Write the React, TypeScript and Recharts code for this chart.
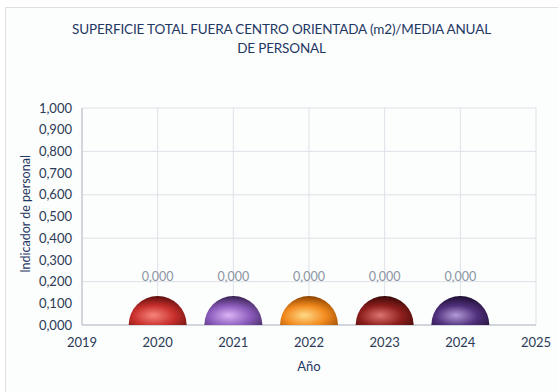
import { ScatterChart, Scatter, XAxis, YAxis, CartesianGrid, Cell } from 'recharts';

const years = [2020, 2021, 2022, 2023, 2024];
const values = [0, 0, 0, 0, 0];
const xTicks = [2019, 2020, 2021, 2022, 2023, 2024, 2025];
const yTicks = [0, 0.1, 0.2, 0.3, 0.4, 0.5, 0.6, 0.7, 0.8, 0.9, 1];

// light / base / dark for each sphere
const COLORS = [
    ['#f7847c', '#c8302c', '#5c0e0c'],
    ['#dab4f4', '#8c5cbc', '#36204e'],
    ['#ffda88', '#f28a1e', '#8a4200'],
    ['#dc7470', '#8e1f1d', '#380807'],
    ['#b29ad6', '#50307c', '#1c0e30'],
];

const points = years.map((year, i) => ({ year, value: values[i], idx: i }));

const fmt = (v: number) => v.toFixed(3).replace('.', ',');

const Dome = (props: any) => {
    const { cx, cy, payload } = props;
    if (cx == null || cy == null) return null;
    const r = 29;
    return (
        <g>
            <path
                d={`M ${cx - r} ${cy} A ${r} ${r} 0 0 1 ${cx + r} ${cy} Z`}
                fill={`url(#dome-${payload.idx})`}
            />
            <text
                x={cx}
                y={cy - 44}
                textAnchor="middle"
                fill="#8b95a3"
                fontSize={12.5}
                fontFamily="Lato, sans-serif"
            >
                {fmt(payload.value)}
            </text>
        </g>
    );
};

export default function App() {
    return (
        <div style={{ position: 'relative', width: 558, height: 392, background: '#fff', fontFamily: 'Lato, sans-serif' }}>
            <style>{'body{margin:0}'}</style>
            <div
                style={{
                    position: 'absolute', left: 5, top: 7, width: 560, height: 400,
                    border: '1px solid #dcdfe3', background: '#fcfdfd',
                }}
            />
            <div
                style={{
                    position: 'absolute', left: 0, top: 20, width: 563, textAlign: 'center',
                    color: '#1f3864', fontSize: 13.5, lineHeight: '19px', letterSpacing: -0.15,
                }}
            >
                SUPERFICIE TOTAL FUERA CENTRO ORIENTADA (m2)/MEDIA ANUAL
                <br />
                DE PERSONAL
            </div>
            <div
                style={{
                    position: 'absolute', left: 25, top: 214, transform: 'translate(-50%, -50%) rotate(-90deg)',
                    whiteSpace: 'nowrap', color: '#1f3864', fontSize: 12.5,
                }}
            >
                Indicador de personal
            </div>
            <div style={{ position: 'absolute', left: 0, top: 0 }}>
                <ScatterChart width={558} height={392} margin={{ top: 108, right: 22, bottom: 17, left: 32 }}>
                    <defs>
                        {COLORS.map((c, i) => (
                            <radialGradient key={i} id={`dome-${i}`} cx="45%" cy="72%" r="72%" fx="42%" fy="66%">
                                <stop offset="0%" stopColor={c[0]} />
                                <stop offset="50%" stopColor={c[1]} />
                                <stop offset="100%" stopColor={c[2]} />
                            </radialGradient>
                        ))}
                    </defs>
                    <CartesianGrid stroke="#dde2e8" />
                    <XAxis
                        type="number"
                        dataKey="year"
                        domain={[2019, 2025]}
                        ticks={xTicks}
                        height={50}
                        tickLine={false}
                        axisLine={{ stroke: '#b8bec6' }}
                        tick={{ fill: '#2b3a55', fontSize: 13 }}
                        tickMargin={7}
                        label={{ value: 'Año', position: 'insideBottom', offset: 4, fill: '#1f3864', fontSize: 13 }}
                    />
                    <YAxis
                        type="number"
                        dataKey="value"
                        domain={[0, 1]}
                        ticks={yTicks}
                        width={50}
                        tickLine={false}
                        axisLine={{ stroke: '#b8bec6' }}
                        tick={{ fill: '#2b3a55', fontSize: 13 }}
                        tickFormatter={fmt}
                        tickMargin={4}
                    />
                    <Scatter data={points} shape={<Dome />} isAnimationActive={false}>
                        {points.map((p) => (
                            <Cell key={p.year} />
                        ))}
                    </Scatter>
                </ScatterChart>
            </div>
        </div>
    );
}
